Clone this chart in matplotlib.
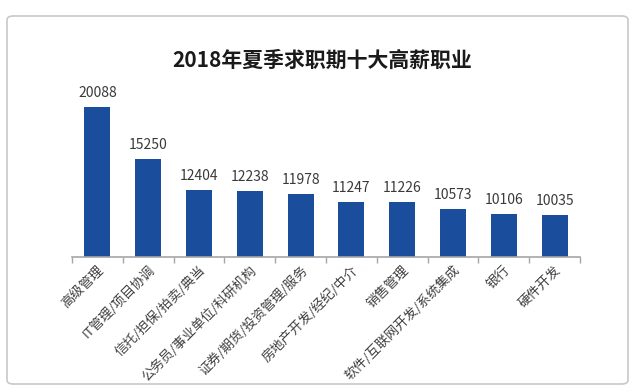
import matplotlib.pyplot as plt
from matplotlib.patches import FancyBboxPatch

plt.rcParams['font.family'] = ['Noto Sans CJK SC', 'DejaVu Sans']

jobs = ['高级管理', 'IT管理/项目协调', '信托/担保/拍卖/典当', '公务员/事业单位/科研机构',
        '证券/期货/投资管理/服务', '房地产开发/经纪/中介', '销售管理',
        '软件/互联网开发/系统集成', '银行', '硬件开发']
salary = [20088, 15250, 12404, 12238, 11978, 11247, 11226, 10573, 10106, 10035]

fig = plt.figure(figsize=(6.4, 3.92), dpi=100)
W, H = 640, 392

# light frame around the chart
frame = FancyBboxPatch((7 / W, 8 / H), 621 / W, 368 / H, boxstyle='round,pad=0,rounding_size=0.01',
                       transform=fig.transFigure, fill=False, edgecolor='#c8c8c8', linewidth=1.2)
fig.patches.append(frame)

ax = fig.add_axes([72 / W, (H - 256.5) / H, 508 / W, 164 / H])
x = range(len(jobs))
bars = ax.bar(x, salary, width=0.51, color='#1a4d9b')
ax.set_xlim(-0.5, len(jobs) - 0.5)
ax.set_ylim(6150, 21470)

for b, v in zip(bars, salary):
    ax.annotate(str(v), (b.get_x() + b.get_width() / 2, v), xytext=(0, 5),
                textcoords='offset points', ha='center', va='bottom',
                fontsize=10, color='#3a3a3a')

for s in ['top', 'right', 'left']:
    ax.spines[s].set_visible(False)
ax.spines['bottom'].set_color('#a6a6a6')
ax.spines['bottom'].set_linewidth(1.2)
ax.set_yticks([])

# category labels centred under bars, tick marks between categories
ax.set_xticks(list(x))
ax.set_xticklabels(jobs, rotation=45, ha='right', va='top', rotation_mode='anchor',
                   fontsize=9.5, color='#404040')
ax.tick_params(axis='x', which='major', length=0, pad=5)
ax.set_xticks([i - 0.5 for i in range(len(jobs) + 1)], minor=True)
ax.tick_params(axis='x', which='minor', length=4, color='#a6a6a6', width=1)

fig.text(322 / W, 1 - 60 / H, '2018年夏季求职期十大高薪职业', ha='center', va='center',
         fontsize=15, fontweight='bold', color='#1a1a1a')

fig.savefig('out.png', dpi=100)
